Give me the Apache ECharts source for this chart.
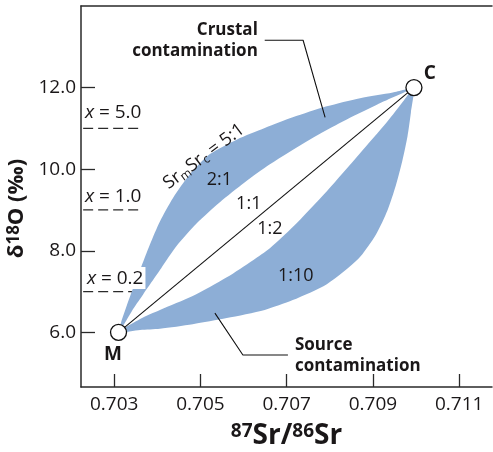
<!DOCTYPE html>
<html><head><meta charset="utf-8">
<script src="https://cdn.jsdelivr.net/npm/echarts@6/dist/echarts.min.js"></script>
<style>html,body{margin:0;padding:0;background:#fff}#c{width:493px;height:452px}</style>
</head><body><div id="c"></div>
<script>
const xTicks = [0.703, 0.705, 0.707, 0.709, 0.711];
const xTickLabels = ['0.703', '0.705', '0.707', '0.709', '0.711'];
const yTicks = [6, 8, 10, 12];
const yTickLabels = ['6.0', '8.0', '10.0', '12.0'];

const pointM = [0.7031, 6.0];
const pointC = [0.70995, 12.0];

// mixing curves (M -> C)
const curve5to1 = [[0.7031,6.0],[0.70316,6.25],[0.70336,6.86],[0.70360,7.53],[0.70383,8.16],[0.70406,8.72],[0.70436,9.29],[0.70476,9.88],[0.70522,10.37],[0.70585,10.73],[0.70649,11.01],[0.70714,11.27],[0.70793,11.54],[0.70870,11.74],[0.70946,11.88],[0.70995,12.0]];
const curve2to1 = [[0.7031,6.0],[0.70327,6.27],[0.70345,6.59],[0.70367,6.93],[0.70388,7.25],[0.70409,7.57],[0.70445,8.12],[0.70492,8.68],[0.70545,9.19],[0.70603,9.68],[0.70661,10.12],[0.70754,10.73],[0.70830,11.17],[0.70909,11.58],[0.70995,12.0]];
const curve1to2 = [[0.7031,6.0],[0.70360,6.33],[0.70406,6.55],[0.70482,6.89],[0.70561,7.35],[0.70622,7.77],[0.70661,8.06],[0.70714,8.58],[0.70793,9.46],[0.70870,10.39],[0.70932,11.15],[0.70972,11.69],[0.70995,12.0]];
const curve1to10 = [[0.7031,6.0],[0.70360,6.06],[0.70406,6.09],[0.70482,6.20],[0.70561,6.35],[0.70649,6.55],[0.70714,6.79],[0.70793,7.18],[0.70865,7.79],[0.70907,8.40],[0.70934,9.00],[0.70953,9.60],[0.70968,10.20],[0.70980,10.80],[0.70988,11.39],[0.70995,12.0]];

// dashed reference levels (x values of the mixing parameter)
const xLevelY = [11.0, 9.0, 7.0];
const xLevelEnd = [0.7036, 0.7036, 0.70341];
const xLevelText = ['5.0', '1.0', '0.2'];
const xLevelLabelY = [11.395, 9.338, 7.33];

// leader lines
const crustalLeader = [[0.70649,13.16],[0.70738,13.16],[0.70789,11.27]];
const sourceLeader = [[0.705335,6.47],[0.705984,5.444],[0.707028,5.444]];

// curve labels
const ratioLabels = [
  {pos:[0.70544,9.742], text:'2:1'},
  {pos:[0.70612,9.142], text:'1:1'},
  {pos:[0.70661,8.53], text:'1:2'},
  {pos:[0.70721,7.379], text:'1:10'}
];

const X_MIN = 0.70223, X_MAX = 0.71176, Y_MIN = 4.66, Y_MAX = 14.0;
const BLUE = '#8DAED6';
const INK = '#1a1718';
const FONT = 'Open Sans';

const bands = [[curve5to1, curve2to1], [curve1to10, curve1to2]];

function fmt(ticks, labels) {
  return v => { const i = ticks.findIndex(t => Math.abs(t - v) < 1e-7); return i >= 0 ? labels[i] : ''; };
}

const chart = echarts.init(document.getElementById('c'), null, {renderer: 'canvas'});

const series = [];
series.push({
  type: 'custom', coordinateSystem: 'cartesian2d', silent: true, z: 1,
  data: bands.map((b, i) => [pointM[0], pointM[1], i]),
  encode: {x: 0, y: 1},
  renderItem(params, api) {
    const b = bands[params.dataIndex];
    const inner = b[1].slice(1, -1).reverse();
    const pts = b[0].concat(inner).map(p => api.coord(p));
    return {type: 'polygon', shape: {points: pts, smooth: 0.25}, style: {fill: BLUE}};
  }
});
// dashed level lines
xLevelY.forEach((y, i) => {
  series.push({type: 'line', silent: true, z: 3, symbol: 'none',
    data: [[X_MIN + 0.00005, y], [xLevelEnd[i], y]],
    lineStyle: {color: '#2a2a2a', width: 1.3, type: [10, 5]}});
});
// 1:1 line
series.push({type: 'line', silent: true, z: 4, symbol: 'none', data: [pointM, pointC],
  lineStyle: {color: '#111', width: 1.1}});
// leaders
[crustalLeader, sourceLeader].forEach(d => series.push({type: 'line', silent: true, z: 4, symbol: 'none', data: d,
  lineStyle: {color: '#111', width: 1.1}}));
// end members
series.push({type: 'scatter', silent: true, z: 6, symbolSize: 16, data: [pointM, pointC],
  itemStyle: {color: '#fff', borderColor: '#111', borderWidth: 1.3, opacity: 1}});

// text labels
const textData = [];
ratioLabels.forEach(r => textData.push({value: r.pos, label: {formatter: r.text, fontSize: 18}}));
textData.push({value: [0.70508, 10.31], label: {
  formatter: '{a|Sr}{s|m}{a|Sr}{s|c}{a| = 5:1}', rotate: 37,
  rich: {a: {fontSize: 18, fontFamily: FONT, color: INK}, s: {fontSize: 12, fontFamily: FONT, color: INK, verticalAlign: 'bottom', padding: [8, 0, 0, 0]}}
}});
textData.push({value: [0.70297, 5.444], label: {formatter: 'M', fontSize: 19, fontWeight: 'bold'}});
textData.push({value: [0.71032, 12.35], label: {formatter: 'C', fontSize: 19, fontWeight: 'bold'}});
textData.push({value: [0.70633, 13.147], label: {formatter: 'Crustal\ncontamination', position: 'left', distance: 0, align: 'right', fontSize: 17, fontWeight: 'bold', lineHeight: 21}});
textData.push({value: [0.70719, 5.432], label: {formatter: 'Source\ncontamination', position: 'right', distance: 0, align: 'left', fontSize: 17, fontWeight: 'bold', lineHeight: 21}});
xLevelText.forEach((t, i) => {
  const item = {value: [0.70232, xLevelLabelY[i]], label: {formatter: '{i|x} = ' + t, position: 'right', distance: 0, align: 'left', fontSize: 19,
    rich: {i: {fontStyle: 'italic', fontSize: 19, fontFamily: FONT, color: INK}}}};
  if (i === 2) { item.label.backgroundColor = '#fff'; item.label.padding = [2, 2, 1, 2]; }
  textData.push(item);
});
series.push({type: 'scatter', silent: true, z: 8, symbolSize: 0, data: textData,
  itemStyle: {opacity: 1, color: 'rgba(0,0,0,0)'},
  label: {show: true, position: 'inside', color: INK, fontFamily: FONT, opacity: 1, textBorderWidth: 0, textShadowBlur: 0}});

chart.setOption({
  animation: false,
  backgroundColor: '#fff',
  grid: {left: 81, right: 1, top: 6, bottom: 65, containLabel: false, outerBoundsMode: 'none'},
  xAxis: [{
    type: 'value', min: X_MIN, max: X_MAX, position: 'bottom',
    axisLine: {onZero: false, lineStyle: {color: '#2a2a2a', width: 1.5}},
    axisTick: {inside: true, length: 13, customValues: xTicks, lineStyle: {color: '#2a2a2a', width: 1.3}},
    axisLabel: {customValues: xTicks, formatter: fmt(xTicks, xTickLabels), color: INK, fontSize: 19, fontFamily: FONT, margin: 8},
    splitLine: {show: false},
    name: '{s|87}{b|Sr/}{s|86}{b|Sr}', nameLocation: 'middle', nameGap: 35,
    nameTextStyle: {rich: {
      b: {fontSize: 28, fontWeight: 'bold', fontFamily: FONT, color: INK},
      s: {fontSize: 19, fontWeight: 'bold', fontFamily: FONT, color: INK, verticalAlign: 'top'}
    }}
  }, {
    type: 'value', min: X_MIN, max: X_MAX, position: 'top',
    axisLine: {show: true, onZero: false, lineStyle: {color: '#2a2a2a', width: 1.5}},
    axisTick: {show: false}, axisLabel: {show: false}, splitLine: {show: false}
  }],
  yAxis: {
    type: 'value', min: Y_MIN, max: Y_MAX,
    axisLine: {show: true, onZero: false, lineStyle: {color: '#2a2a2a', width: 1.5}},
    axisTick: {inside: true, length: 14, customValues: yTicks, lineStyle: {color: '#2a2a2a', width: 1.3}},
    axisLabel: {customValues: yTicks, formatter: fmt(yTicks, yTickLabels), color: INK, fontSize: 19, fontFamily: FONT, margin: 5},
    splitLine: {show: false},
    name: '{b|δ}{s|18}{b|O (‰)}', nameLocation: 'middle', nameGap: 50, nameRotate: 90,
    nameTextStyle: {padding: [0, 24, 0, 0], rich: {
      b: {fontSize: 22, fontWeight: 'bold', fontFamily: FONT, color: INK},
      s: {fontSize: 17, fontWeight: 'bold', fontFamily: FONT, color: INK, verticalAlign: 'top'}
    }}
  },
  series: series
});
</script></body></html>
